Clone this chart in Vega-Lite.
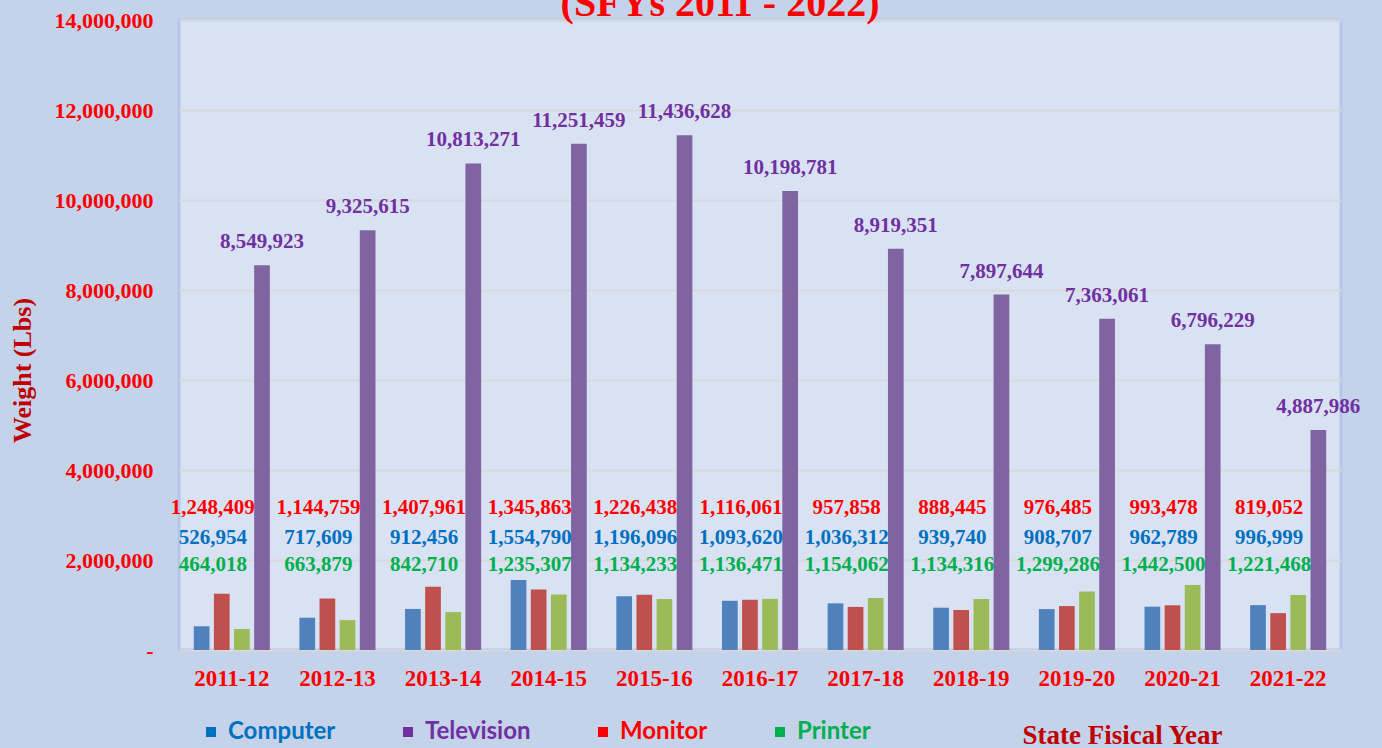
{
  "$schema": "https://vega.github.io/schema/vega-lite/v6.json",
  "autosize": "none",
  "width": 1162,
  "height": 630,
  "padding": {"left": 179, "top": 20, "right": 41, "bottom": 98},
  "background": "#c4d2ea",
  "config": {
    "view": {"fill": "#d9e2f3", "stroke": "#b4c7e7", "strokeWidth": 3},
    "font": "Liberation Serif",
    "axisY": {
      "titleFont": "Liberation Serif",
      "titleFontSize": 26,
      "titleFontWeight": "bold",
      "titleColor": "#c00000",
      "titleX": -157,
      "titleY": 350,
      "titleAngle": -90,
      "titleAlign": "center",
      "titleBaseline": "middle",
      "labelFont": "Liberation Serif",
      "labelFontSize": 22,
      "labelFontWeight": "bold",
      "labelColor": "#ff0000",
      "labelPadding": 26,
      "domain": false,
      "ticks": false,
      "gridColor": "#d9d9d9",
      "gridWidth": 2
    }
  },
  "title": {
    "text": "(SFYs 2011 - 2022)",
    "color": "#ff0000",
    "font": "Liberation Serif",
    "fontSize": 40,
    "fontWeight": "bold",
    "anchor": "middle",
    "frame": "group",
    "baseline": "alphabetic",
    "offset": 0,
    "dx": -40,
    "dy": 47
  },
  "data": {
    "values": [
      {"year": "2011-12", "series": "Computer", "value": 526954},
      {"year": "2011-12", "series": "Monitor", "value": 1248409},
      {"year": "2011-12", "series": "Printer", "value": 464018},
      {"year": "2011-12", "series": "Television", "value": 8549923},
      {"year": "2012-13", "series": "Computer", "value": 717609},
      {"year": "2012-13", "series": "Monitor", "value": 1144759},
      {"year": "2012-13", "series": "Printer", "value": 663879},
      {"year": "2012-13", "series": "Television", "value": 9325615},
      {"year": "2013-14", "series": "Computer", "value": 912456},
      {"year": "2013-14", "series": "Monitor", "value": 1407961},
      {"year": "2013-14", "series": "Printer", "value": 842710},
      {"year": "2013-14", "series": "Television", "value": 10813271},
      {"year": "2014-15", "series": "Computer", "value": 1554790},
      {"year": "2014-15", "series": "Monitor", "value": 1345863},
      {"year": "2014-15", "series": "Printer", "value": 1235307},
      {"year": "2014-15", "series": "Television", "value": 11251459},
      {"year": "2015-16", "series": "Computer", "value": 1196096},
      {"year": "2015-16", "series": "Monitor", "value": 1226438},
      {"year": "2015-16", "series": "Printer", "value": 1134233},
      {"year": "2015-16", "series": "Television", "value": 11436628},
      {"year": "2016-17", "series": "Computer", "value": 1093620},
      {"year": "2016-17", "series": "Monitor", "value": 1116061},
      {"year": "2016-17", "series": "Printer", "value": 1136471},
      {"year": "2016-17", "series": "Television", "value": 10198781},
      {"year": "2017-18", "series": "Computer", "value": 1036312},
      {"year": "2017-18", "series": "Monitor", "value": 957858},
      {"year": "2017-18", "series": "Printer", "value": 1154062},
      {"year": "2017-18", "series": "Television", "value": 8919351},
      {"year": "2018-19", "series": "Computer", "value": 939740},
      {"year": "2018-19", "series": "Monitor", "value": 888445},
      {"year": "2018-19", "series": "Printer", "value": 1134316},
      {"year": "2018-19", "series": "Television", "value": 7897644},
      {"year": "2019-20", "series": "Computer", "value": 908707},
      {"year": "2019-20", "series": "Monitor", "value": 976485},
      {"year": "2019-20", "series": "Printer", "value": 1299286},
      {"year": "2019-20", "series": "Television", "value": 7363061},
      {"year": "2020-21", "series": "Computer", "value": 962789},
      {"year": "2020-21", "series": "Monitor", "value": 993478},
      {"year": "2020-21", "series": "Printer", "value": 1442500},
      {"year": "2020-21", "series": "Television", "value": 6796229},
      {"year": "2021-22", "series": "Computer", "value": 996999},
      {"year": "2021-22", "series": "Monitor", "value": 819052},
      {"year": "2021-22", "series": "Printer", "value": 1221468},
      {"year": "2021-22", "series": "Television", "value": 4887986}
    ]
  },
  "encoding": {
    "x": {
      "field": "year",
      "type": "nominal",
      "sort": null,
      "scale": {"paddingInner": 0.28, "paddingOuter": 0.14},
      "axis": {
        "title": "State Fisical Year",
        "titleFont": "Liberation Serif",
        "titleFontSize": 27,
        "titleFontWeight": "bold",
        "titleColor": "#c00000",
        "titleX": 943,
        "titleY": 93,
        "titleBaseline": "alphabetic",
        "titleAlign": "center",
        "labelAngle": 0,
        "labelFont": "Liberation Serif",
        "labelFontSize": 23,
        "labelFontWeight": "bold",
        "labelColor": "#ff0000",
        "labelPadding": 17,
        "domain": false,
        "ticks": false,
        "grid": false
      }
    }
  },
  "layer": [
    {
      "mark": {"type": "bar"},
      "encoding": {
        "xOffset": {
          "field": "series",
          "type": "nominal",
          "sort": ["Computer", "Monitor", "Printer", "Television"],
          "scale": {"paddingInner": 0.22}
        },
        "y": {
          "field": "value",
          "type": "quantitative",
          "scale": {"domain": [0, 14000000], "nice": false},
          "axis": {
            "title": "Weight (Lbs)",
            "values": [0, 2000000, 4000000, 6000000, 8000000, 10000000, 12000000, 14000000],
            "labelExpr": "datum.value === 0 ? '-\u2007' : format(datum.value, ',')"
          }
        },
        "color": {
          "field": "series",
          "type": "nominal",
          "scale": {
            "domain": ["Computer", "Monitor", "Printer", "Television"],
            "range": ["#4f81bd", "#c0504d", "#9bbb59", "#8064a2"]
          },
          "legend": null
        }
      }
    },
    {
      "encoding": {
        "text": {"field": "value", "type": "quantitative", "format": ","},
        "color": {
          "field": "series",
          "type": "nominal",
          "scale": {
            "domain": ["Computer", "Television", "Monitor", "Printer"],
            "range": ["#0070c0", "#7030a0", "#ff0000", "#00b050"]
          },
          "legend": {
            "orient": "none",
            "legendX": 20,
            "legendY": 700,
            "direction": "horizontal",
            "title": null,
            "padding": 0,
            "symbolType": "square",
            "symbolSize": 100,
            "symbolStrokeWidth": 0,
            "labelFont": "Lato",
            "labelFontSize": 24,
            "labelFontWeight": "bold",
            "labelOffset": 5,
            "columnPadding": 60,
            "encode": {
              "labels": {
                "update": {
                  "fill": {"signal": "datum.value === 'Computer' ? '#0070c0' : datum.value === 'Television' ? '#7030a0' : datum.value === 'Monitor' ? '#ff0000' : '#00b050'"}
                }
              }
            }
          }
        }
      },
      "layer": [
        {
          "transform": [{"filter": "datum.series === 'Television'"}],
          "mark": {"type": "text", "fontSize": 21, "fontWeight": "bold", "font": "Liberation Serif", "baseline": "alphabetic", "dy": -17},
          "encoding": {
            "xOffset": {"field": "series", "type": "nominal", "sort": ["Computer", "Monitor", "Printer", "Television"]},
            "y": {"field": "value", "type": "quantitative", "title": "Weight (Lbs)"}
          }
        },
        {
          "transform": [{"filter": "datum.series === 'Monitor'"}],
          "mark": {"type": "text", "fontSize": 21, "fontWeight": "bold", "font": "Liberation Serif", "baseline": "middle", "dx": -19},
          "encoding": {"y": {"datum": 3150000, "type": "quantitative", "title": "Weight (Lbs)"}}
        },
        {
          "transform": [{"filter": "datum.series === 'Computer'"}],
          "mark": {"type": "text", "fontSize": 21, "fontWeight": "bold", "font": "Liberation Serif", "baseline": "middle", "dx": -19},
          "encoding": {"y": {"datum": 2500000, "type": "quantitative", "title": "Weight (Lbs)"}}
        },
        {
          "transform": [{"filter": "datum.series === 'Printer'"}],
          "mark": {"type": "text", "fontSize": 21, "fontWeight": "bold", "font": "Liberation Serif", "baseline": "middle", "dx": -19},
          "encoding": {"y": {"datum": 1890000, "type": "quantitative", "title": "Weight (Lbs)"}}
        }
      ]
    }
  ],
  "resolve": {"scale": {"color": "independent"}}
}
